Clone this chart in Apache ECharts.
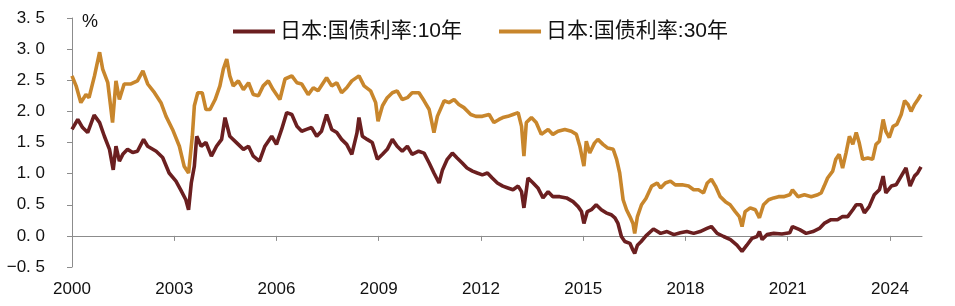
<!DOCTYPE html>
<html>
<head>
<meta charset="utf-8">
<script src="https://cdn.jsdelivr.net/npm/echarts@6/dist/echarts.min.js"></script>
<style>
html,body{margin:0;padding:0;background:#fff;}
#chart{width:955px;height:306px;}
</style>
</head>
<body>
<div id="chart"></div>
<script>
// ---- data (decimal years, yield %) ----
const seriesNames = ['日本:国债利率:10年', '日本:国债利率:30年'];
const xTickLabels = [2000, 2003, 2006, 2009, 2012, 2015, 2018, 2021, 2024];
const yTickValues = [-0.5, 0, 0.5, 1.0, 1.5, 2.0, 2.5, 3.0, 3.5];

const t10 = [2000.00,2000.17,2000.31,2000.46,2000.65,2000.81,2000.95,2001.10,2001.21,2001.29,2001.39,2001.49,2001.63,2001.78,2001.92,2002.10,2002.22,2002.47,2002.66,2002.85,2003.05,2003.19,2003.34,2003.42,2003.50,2003.59,2003.66,2003.79,2003.93,2004.09,2004.24,2004.39,2004.49,2004.63,2004.84,2005.03,2005.18,2005.32,2005.50,2005.66,2005.86,2006.00,2006.15,2006.30,2006.45,2006.60,2006.74,2006.88,2007.03,2007.18,2007.32,2007.47,2007.62,2007.77,2007.91,2008.06,2008.21,2008.36,2008.42,2008.52,2008.66,2008.81,2008.96,2009.11,2009.25,2009.40,2009.54,2009.69,2009.84,2009.98,2010.17,2010.33,2010.48,2010.62,2010.77,2010.87,2011.01,2011.16,2011.30,2011.45,2011.59,2011.75,2011.89,2012.04,2012.19,2012.33,2012.48,2012.64,2012.79,2012.94,2013.09,2013.19,2013.26,2013.38,2013.53,2013.67,2013.82,2013.97,2014.11,2014.31,2014.51,2014.70,2014.85,2014.95,2015.02,2015.12,2015.24,2015.38,2015.53,2015.67,2015.82,2015.93,2016.02,2016.12,2016.22,2016.37,2016.46,2016.51,2016.59,2016.70,2016.84,2017.06,2017.27,2017.46,2017.66,2017.85,2018.04,2018.24,2018.43,2018.63,2018.76,2018.93,2019.12,2019.32,2019.51,2019.66,2019.80,2019.95,2020.10,2020.17,2020.25,2020.39,2020.59,2020.83,2021.06,2021.14,2021.35,2021.54,2021.74,2021.93,2022.07,2022.27,2022.46,2022.61,2022.76,2022.91,2023.01,2023.15,2023.25,2023.39,2023.54,2023.69,2023.80,2023.88,2024.04,2024.18,2024.33,2024.47,2024.59,2024.72,2024.81,2024.91];
const y10 = [1.71,1.87,1.74,1.66,1.94,1.82,1.60,1.39,1.06,1.44,1.20,1.31,1.39,1.34,1.36,1.55,1.44,1.36,1.26,1.01,0.88,0.74,0.58,0.42,0.85,1.12,1.60,1.44,1.50,1.28,1.44,1.55,1.90,1.60,1.49,1.39,1.44,1.28,1.20,1.44,1.60,1.47,1.71,1.98,1.95,1.76,1.68,1.71,1.74,1.60,1.68,1.95,1.71,1.66,1.55,1.47,1.31,1.65,1.90,1.60,1.55,1.50,1.23,1.31,1.39,1.55,1.44,1.36,1.44,1.31,1.36,1.33,1.17,1.01,0.85,1.06,1.23,1.33,1.25,1.17,1.09,1.04,1.01,0.98,1.01,0.93,0.85,0.80,0.77,0.74,0.80,0.71,0.45,0.93,0.85,0.77,0.61,0.71,0.63,0.63,0.61,0.55,0.47,0.39,0.20,0.39,0.42,0.50,0.42,0.37,0.34,0.29,0.20,-0.01,-0.09,-0.12,-0.23,-0.28,-0.15,-0.09,0.00,0.11,0.04,0.07,0.02,0.05,0.07,0.04,0.07,0.12,0.15,0.04,-0.01,-0.06,-0.15,-0.25,-0.15,-0.04,-0.01,0.07,-0.06,0.02,0.04,0.03,0.05,0.15,0.10,0.04,0.07,0.12,0.20,0.26,0.26,0.31,0.31,0.42,0.50,0.50,0.37,0.47,0.66,0.74,0.96,0.69,0.80,0.82,0.96,1.09,0.80,0.96,1.01,1.11];

const t30 = [2000.00,2000.12,2000.26,2000.41,2000.50,2000.66,2000.81,2000.90,2001.05,2001.19,2001.29,2001.39,2001.53,2001.73,2001.92,2002.08,2002.22,2002.42,2002.61,2002.76,2002.95,2003.15,2003.29,2003.42,2003.53,2003.59,2003.69,2003.82,2003.93,2004.05,2004.20,2004.34,2004.44,2004.54,2004.63,2004.73,2004.88,2005.03,2005.18,2005.32,2005.47,2005.61,2005.76,2005.90,2006.10,2006.25,2006.45,2006.60,2006.74,2006.93,2007.08,2007.22,2007.47,2007.62,2007.77,2007.91,2008.06,2008.21,2008.42,2008.57,2008.76,2008.91,2008.98,2009.11,2009.25,2009.40,2009.54,2009.69,2009.84,2009.98,2010.18,2010.33,2010.48,2010.62,2010.72,2010.92,2011.06,2011.21,2011.35,2011.50,2011.70,2011.85,2012.04,2012.24,2012.38,2012.53,2012.64,2012.79,2012.94,2013.09,2013.19,2013.26,2013.33,2013.48,2013.62,2013.77,2013.97,2014.11,2014.26,2014.46,2014.65,2014.80,2014.90,2015.02,2015.09,2015.19,2015.33,2015.43,2015.58,2015.72,2015.88,2015.98,2016.07,2016.17,2016.27,2016.37,2016.46,2016.51,2016.59,2016.71,2016.84,2017.01,2017.17,2017.27,2017.41,2017.56,2017.70,2017.90,2018.09,2018.24,2018.38,2018.53,2018.64,2018.76,2018.88,2019.02,2019.17,2019.31,2019.46,2019.58,2019.66,2019.75,2019.90,2020.05,2020.17,2020.29,2020.44,2020.59,2020.73,2020.88,2021.06,2021.14,2021.30,2021.49,2021.69,2021.88,2021.98,2022.07,2022.17,2022.32,2022.41,2022.51,2022.61,2022.71,2022.81,2022.91,2023.01,2023.10,2023.20,2023.35,2023.49,2023.59,2023.69,2023.80,2023.88,2023.98,2024.09,2024.20,2024.33,2024.43,2024.53,2024.62,2024.72,2024.82,2024.91];
const y30 = [2.57,2.41,2.14,2.27,2.22,2.57,2.95,2.68,2.46,1.82,2.49,2.19,2.44,2.44,2.49,2.65,2.44,2.30,2.14,1.92,1.71,1.44,1.12,1.01,1.60,2.09,2.30,2.30,2.03,2.03,2.19,2.41,2.68,2.84,2.57,2.41,2.49,2.35,2.46,2.27,2.25,2.41,2.49,2.35,2.19,2.52,2.57,2.46,2.44,2.27,2.38,2.33,2.54,2.41,2.46,2.30,2.38,2.49,2.57,2.41,2.33,2.14,1.84,2.09,2.22,2.30,2.33,2.19,2.22,2.30,2.30,2.17,2.03,1.66,1.92,2.17,2.14,2.19,2.11,2.06,1.95,1.92,1.92,1.95,1.82,1.87,1.90,1.92,1.95,1.98,1.76,1.28,1.82,1.90,1.82,1.63,1.71,1.63,1.68,1.71,1.68,1.63,1.44,1.12,1.52,1.33,1.49,1.55,1.47,1.41,1.39,1.23,1.01,0.58,0.42,0.31,0.20,0.04,0.31,0.50,0.60,0.80,0.85,0.77,0.85,0.88,0.82,0.82,0.80,0.74,0.74,0.69,0.85,0.91,0.80,0.63,0.55,0.50,0.39,0.31,0.15,0.39,0.45,0.42,0.29,0.50,0.58,0.61,0.63,0.63,0.66,0.74,0.63,0.66,0.63,0.66,0.69,0.80,0.93,1.04,1.23,1.31,1.09,1.33,1.60,1.47,1.66,1.49,1.23,1.25,1.23,1.47,1.52,1.87,1.68,1.58,1.76,1.79,1.95,2.17,2.11,2.00,2.11,2.19,2.27];

// ---- chart ----
const chart = echarts.init(document.getElementById('chart'));
const FONT = '"Liberation Sans", Arial, "Noto Sans CJK SC", sans-serif';
const xMin = 2000, xMax = 2024.94;

chart.setOption({
  animation: false,
  backgroundColor: '#ffffff',
  textStyle: { fontFamily: FONT },
  grid: { left: 72, right: 33, top: 18, bottom: 39 },
  legend: {
    left: 228, top: 16,
    itemWidth: 42, itemHeight: 4, itemGap: 37,
    icon: 'rect',
    textStyle: { fontSize: 21, color: '#111', fontFamily: FONT },
    data: seriesNames
  },
  graphic: [{
    type: 'text', left: 82, top: 13,
    style: { text: '%', fontSize: 18, fill: '#111', fontFamily: FONT }
  }],
  xAxis: [{
    type: 'value', min: xMin, max: xMax, interval: 3,
    axisLine: { show: false, onZero: false },
    axisTick: { show: false },
    splitLine: { show: false },
    axisLabel: {
      customValues: xTickLabels,
      fontSize: 17, color: '#111', margin: 14,
      formatter: v => String(Math.round(v))
    }
  }, {
    type: 'value', min: xMin, max: xMax, interval: 3,
    axisLine: { show: true, onZero: true, lineStyle: { color: '#8c8c8c', width: 1 } },
    axisTick: { show: true, inside: true, length: 5, customValues: xTickLabels, lineStyle: { color: '#8c8c8c' } },
    axisLabel: { show: false },
    splitLine: { show: false }
  }],
  yAxis: {
    type: 'value', min: -0.5, max: 3.5, interval: 0.5,
    axisLine: { show: true, lineStyle: { color: '#8c8c8c', width: 1 } },
    axisTick: { show: true, length: 5, lineStyle: { color: '#8c8c8c' } },
    splitLine: { show: false },
    axisLabel: {
      fontSize: 17, color: '#111', margin: 27,
      formatter: v => v.toFixed(1).replace('.', '. ').replace('-', '\u2212')
    }
  },
  series: [{
    name: seriesNames[0], type: 'line', xAxisIndex: 0,
    data: t10.map((t, i) => [t, y10[i]]),
    showSymbol: false, symbol: 'none',
    lineStyle: { color: '#6b1f20', width: 3.6 },
    itemStyle: { color: '#6b1f20' },
    z: 3
  }, {
    name: seriesNames[1], type: 'line', xAxisIndex: 0,
    data: t30.map((t, i) => [t, y30[i]]),
    showSymbol: false, symbol: 'none',
    lineStyle: { color: '#c8862c', width: 3.6 },
    itemStyle: { color: '#c8862c' },
    z: 2
  }]
});
</script>
</body>
</html>
